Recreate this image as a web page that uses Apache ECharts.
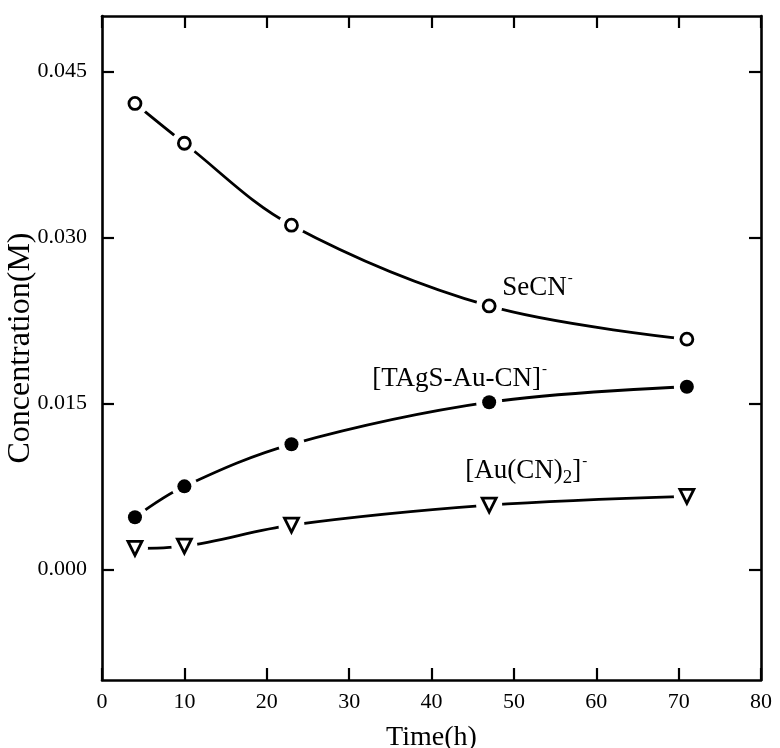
<!DOCTYPE html>
<html>
<head>
<meta charset="utf-8">
<script src="https://cdn.jsdelivr.net/npm/echarts@6/dist/echarts.min.js"></script>
<style>
  html, body { margin: 0; padding: 0; background: #fff; }
  #chart { width: 780px; height: 748px; }
</style>
</head>
<body>
<div id="chart"></div>
<script>
// data
var times = [4, 10, 23, 47, 71];
var secn = [0.0421, 0.0385, 0.0311, 0.0238, 0.0208];
var tags = [0.0047, 0.0075, 0.0113, 0.0151, 0.0165];
var aucn = [0.0019, 0.0021, 0.0040, 0.0058, 0.0066];
var yTicks = [0, 0.015, 0.030, 0.045];

var FONT = 'Liberation Serif';
var INK = '#000';

function pairs(ys) {
    return times.map(function (t, i) { return [t, ys[i]]; });
}

// smooth curve; its own white symbols cut the gap round each marker
function curve(ys) {
    return {
        type: 'line', data: pairs(ys), smooth: 0.35,
        showSymbol: true, symbol: 'circle', symbolSize: 26,
        itemStyle: { color: '#fff', borderWidth: 0, opacity: 1 },
        lineStyle: { color: INK, width: 2.8 }, z: 2, silent: true
    };
}
function marker(ys, symbol, filled, size, rotate) {
    return {
        type: 'scatter', data: pairs(ys), symbol: symbol, symbolSize: size,
        symbolRotate: rotate || 0,
        itemStyle: filled
            ? { color: INK, opacity: 1 }
            : { color: '#fff', borderColor: INK, borderWidth: 2.8, opacity: 1 },
        z: 5, silent: true
    };
}

var chart = echarts.init(document.getElementById('chart'));

var frameLine = { show: true, onZero: false, lineStyle: { color: INK, width: 2.6 } };
var tick = { show: true, inside: true, length: 12, lineStyle: { color: INK, width: 2.2 } };

option = {
    animation: false,
    grid: { left: 102, right: 19, top: 16, bottom: 68, containLabel: false, outerBoundsMode: 'none' },
    xAxis: [{
        type: 'value', min: 0, max: 80, interval: 10,
        name: 'Time(h)', nameLocation: 'middle', nameGap: 44,
        nameTextStyle: { fontFamily: FONT, fontSize: 28, color: INK },
        axisLine: frameLine, axisTick: tick,
        axisLabel: { fontFamily: FONT, fontSize: 22, color: INK, margin: 11 },
        splitLine: { show: false }
    }, {
        type: 'value', min: 0, max: 80, interval: 10, position: 'top',
        axisLine: frameLine, axisTick: tick, axisLabel: { show: false },
        splitLine: { show: false }
    }],
    yAxis: [{
        type: 'value', min: -0.01, max: 0.05,
        name: 'Concentration(M)', nameLocation: 'middle', nameGap: 65,
        nameMoveOverlap: false,
        nameTextStyle: { fontFamily: FONT, fontSize: 32, color: INK },
        axisLine: frameLine,
        axisTick: Object.assign({ customValues: yTicks }, tick),
        axisLabel: {
            customValues: yTicks, fontFamily: FONT, fontSize: 22, color: INK, margin: 15,
            formatter: function (v) { return v.toFixed(3); }
        },
        splitLine: { show: false }
    }, {
        type: 'value', min: -0.01, max: 0.05, position: 'right',
        axisLine: frameLine,
        axisTick: Object.assign({ customValues: yTicks }, tick),
        axisLabel: { show: false },
        splitLine: { show: false }
    }],
    series: [
        curve(secn), curve(tags), curve(aucn),
        marker(secn, 'circle', false, 12),
        marker(tags, 'circle', true, 14),
        marker(aucn, 'triangle', false, 14, 180)
    ]
};
chart.setOption(option);

// species labels, anchored in data space
var rich = {
    b: { fontFamily: FONT, fontSize: 27, color: INK },
    sup: { fontFamily: FONT, fontSize: 15, color: INK, padding: [0, 0, 20, 1] },
    sub: { fontFamily: FONT, fontSize: 19, color: INK, padding: [14, 0, 0, 0] }
};
var labels = [
    { text: '{b|SeCN}{sup|-}', at: [48.6, 0.0254] },
    { text: '{b|[TAgS-Au-CN]}{sup|-}', at: [32.8, 0.0172] },
    { text: '{b|[Au(CN)}{sub|2}{b|]}{sup|-}', at: [44.1, 0.0089] }
];
chart.setOption({
    graphic: labels.map(function (l) {
        var p = chart.convertToPixel({ xAxisIndex: 0, yAxisIndex: 0 }, l.at);
        return {
            type: 'text', x: p[0], y: p[1], z: 10,
            style: { text: l.text, rich: rich, verticalAlign: 'middle', align: 'left' }
        };
    })
});
</script>
</body>
</html>
